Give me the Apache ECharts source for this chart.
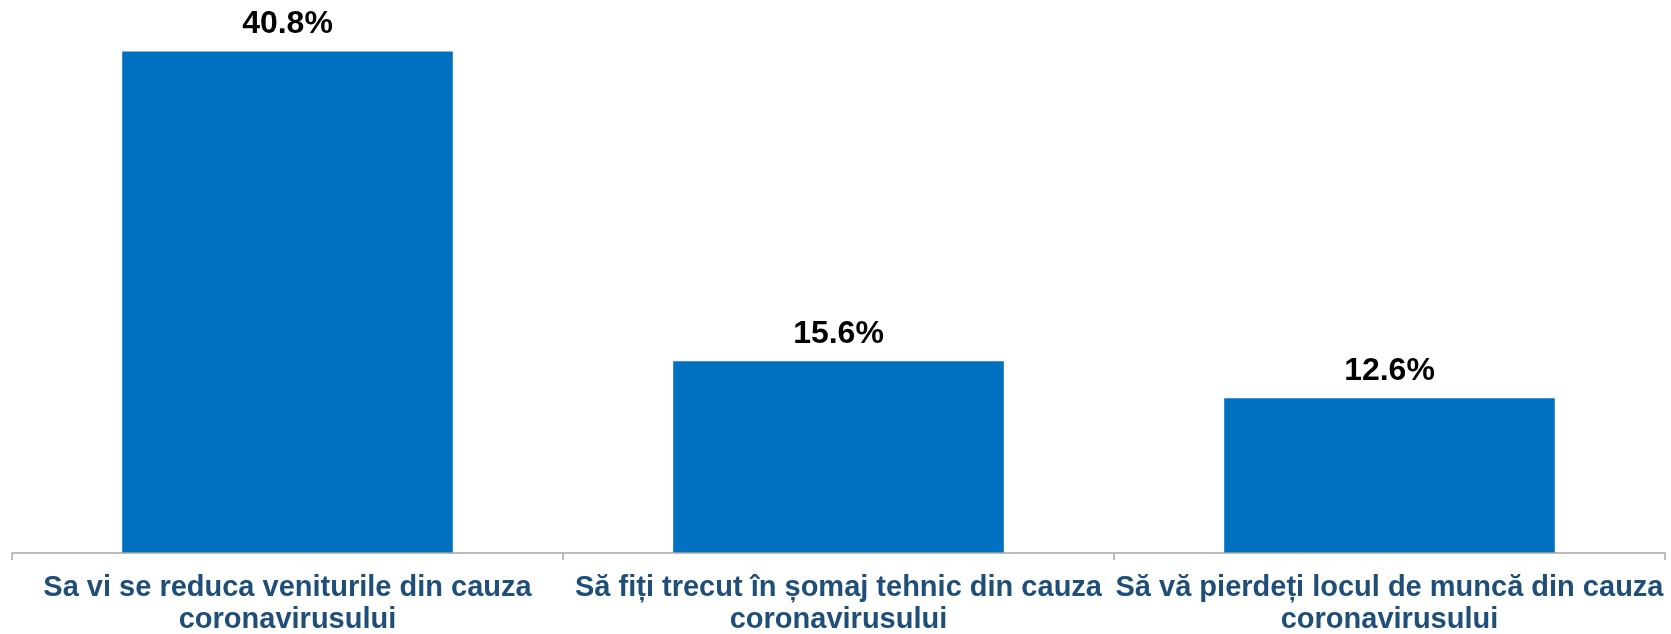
<!DOCTYPE html>
<html>
<head>
<meta charset="utf-8">
<script src="https://cdn.jsdelivr.net/npm/echarts@6/dist/echarts.min.js"></script>
<style>
  html, body { margin: 0; padding: 0; background: #ffffff; }
  #chart { width: 1671px; height: 634px; }
</style>
</head>
<body>
<div id="chart"></div>
<script>
// Survey answers (category labels, two lines each)
const categories = [
  'Sa vi se reduca veniturile din cauza\ncoronavirusului',
  'Să fiți trecut în șomaj tehnic din cauza\ncoronavirusului',
  'Să vă pierdeți locul de muncă din cauza\ncoronavirusului'
];
// Share of respondents, in percent
const values = [40.8, 15.6, 12.6];

const chart = echarts.init(document.getElementById('chart'));
chart.setOption({
  animation: false,
  grid: { left: 12, right: 6, top: 0, bottom: 81, containLabel: false, outerBoundsMode: 'none' },
  xAxis: {
    type: 'category',
    data: categories,
    z: 3,
    axisLine: { show: true, lineStyle: { color: '#A6A6A6', width: 1.5 } },
    axisTick: { show: true, alignWithLabel: false, length: 7, lineStyle: { color: '#A6A6A6', width: 1.5 } },
    axisLabel: {
      interval: 0,
      margin: 19,
      color: '#1F4E79',
      fontFamily: 'Liberation Sans, Arial, sans-serif',
      fontWeight: 'bold',
      fontSize: 29,
      lineHeight: 32
    }
  },
  yAxis: {
    type: 'value',
    min: 0,
    max: 45,
    show: false,
    splitLine: { show: false }
  },
  series: [{
    type: 'bar',
    data: values,
    barWidth: '60%',
    itemStyle: { color: '#0070C0' },
    label: {
      show: true,
      position: 'top',
      distance: 11,
      formatter: p => p.value.toFixed(1) + '%',
      color: '#000000',
      fontFamily: 'Liberation Sans, Arial, sans-serif',
      fontWeight: 'bold',
      fontSize: 32
    }
  }]
});
</script>
</body>
</html>
